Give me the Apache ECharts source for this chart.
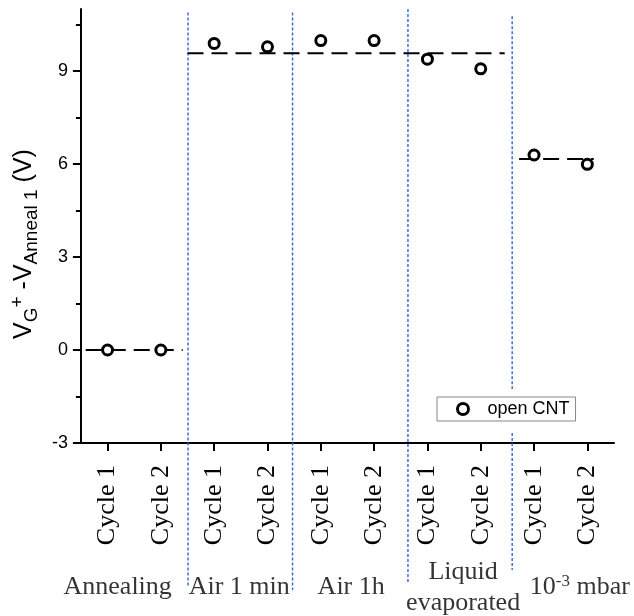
<!DOCTYPE html>
<html><head><meta charset="utf-8">
<script src="https://cdn.jsdelivr.net/npm/echarts@6/dist/echarts.min.js"></script>
<style>html,body{margin:0;padding:0;background:#fff}#c{width:634px;height:616px}</style>
</head><body><div id="c"></div>
<script>
// ---- data ----
const cycleLabels = ['Cycle 1','Cycle 2','Cycle 1','Cycle 2','Cycle 1','Cycle 2','Cycle 1','Cycle 2','Cycle 1','Cycle 2'];
const openCNT = [0.0, 0.0, 9.89, 9.78, 9.98, 9.98, 9.38, 9.07, 6.29, 5.99];
const yMajorTicks = [-3, 0, 3, 6, 9];
const yMinorTicks = [-1.5, 1.5, 4.5, 7.5, 10.5];
// dashed average levels (x in category units, 1 = first category)
const fitStart = [0.59, 2.50, 8.72];
const fitEnd   = [2.41, 8.45, 10.12];
const fitLevel = [0, 9.57, 6.16];
// blue dotted separators
const sepX      = [2.51, 4.47, 6.635, 8.59];
const sepTop    = [10.89, 10.89, 11.0, 10.77];
const sepBottom = [-7.65, -7.74, -7.52, -7.1];
const sepGapTop = -1.26, sepGapBottom = -2.68; // gap around the legend on the last separator
// group names under the axis
const groupNames = ['Annealing', 'Air 1 min', 'Air 1h', 'Liquid\nevaporated', '10{sup|-3} mbar'];
const groupX = [1.19, 3.47, 5.57, 7.67, 9.86];
const groupY = -7.66;

const chart = echarts.init(document.getElementById('c'), null, {renderer: 'canvas'});
const sans = 'Liberation Sans, Arial, sans-serif';
const serif = 'Liberation Serif, Times New Roman, serif';

const series = [];
series.push({
  name: 'open CNT', type: 'scatter', xAxisIndex: 0, yAxisIndex: 0,
  data: openCNT, symbol: 'circle', symbolSize: 10, z: 10,
  itemStyle: {color: '#fff', borderColor: '#000', borderWidth: 3, opacity: 1}
});
fitLevel.forEach((lv, i) => {
  series.push({
    name: 'fit' + i, type: 'line', xAxisIndex: 1, yAxisIndex: 0, symbol: 'none', z: 5,
    data: [[fitStart[i], lv], [fitEnd[i], lv]],
    lineStyle: {color: '#000', width: 2, type: [16, 8]}
  });
});
sepX.forEach((x, i) => {
  const d = (i === 3)
    ? [[x, sepTop[i]], [x, sepGapTop], [x, null], [x, sepGapBottom], [x, sepBottom[i]]]
    : [[x, sepTop[i]], [x, sepBottom[i]]];
  series.push({
    name: 'sep' + i, type: 'line', xAxisIndex: 1, yAxisIndex: 0, symbol: 'none', clip: false, z: 3,
    data: d, connectNulls: false,
    lineStyle: {color: '#2f66d8', width: 1.4, type: [3, 2]}
  });
});
series.push({
  name: 'groups', type: 'scatter', xAxisIndex: 1, yAxisIndex: 0, symbolSize: 0, clip: false,
  data: groupX.map((x, i) => ({value: [x, groupY], name: groupNames[i]})),
  label: {
    show: true, position: 'inside', formatter: p => p.name,
    fontFamily: serif, fontSize: 26, color: '#000', lineHeight: 31,
    rich: {sup: {fontFamily: serif, fontSize: 17, padding: [0, 0, 12, 0], color: '#000'}}
  },
  silent: true
});

chart.setOption({
  animation: false,
  backgroundColor: '#fff',
  grid: {left: 76, right: 20, top: 9, bottom: 173, containLabel: false},
  legend: {
    data: ['open CNT'], left: 437, top: 397,
    orient: 'horizontal', padding: [3, 6, 3, 19],
    backgroundColor: '#fff', borderColor: '#888', borderWidth: 1, borderRadius: 0,
    itemWidth: 11, itemHeight: 11, icon: 'circle',
    itemStyle: {color: '#fff', borderColor: '#000', borderWidth: 3, opacity: 1},
    textStyle: {fontFamily: sans, fontSize: 18, color: '#000', padding: [0, 0, 0, 14]}
  },
  xAxis: [{
    type: 'category', data: cycleLabels, boundaryGap: true,
    axisLine: {show: true, onZero: false, lineStyle: {color: '#000', width: 2}},
    axisTick: {show: true, alignWithLabel: true, length: 8, lineStyle: {color: '#000', width: 2}},
    axisLabel: {rotate: 90, margin: 22, fontFamily: serif, fontSize: 26, color: '#000', interval: 0, padding: [8, 0, 0, 0]},
    splitLine: {show: false}
  }, {
    type: 'value', min: 0.5, max: 10.5, show: false
  }],
  yAxis: [{
    type: 'value', min: -3, max: 11,
    axisLine: {show: true, onZero: false, lineStyle: {color: '#000', width: 2}},
    axisTick: {show: true, length: 8, customValues: yMajorTicks, lineStyle: {color: '#000', width: 2}},
    axisLabel: {show: true, customValues: yMajorTicks, margin: 13, fontFamily: sans, fontSize: 18, color: '#000'},
    splitLine: {show: false},
    name: '{m|V}{sub|G}{sup|+}{m| -V}{sub|Anneal 1}{m| (V)}',
    nameLocation: 'middle', nameGap: 30, nameRotate: 90,
    nameTextStyle: {
      padding: [0, 36, 0, 0],
      rich: {
        m: {fontFamily: sans, fontSize: 25, color: '#000'},
        sub: {fontFamily: sans, fontSize: 19, color: '#000', padding: [14, 0, 0, 0]},
        sup: {fontFamily: sans, fontSize: 19, color: '#000', padding: [0, 0, 14, 0]}
      }
    }
  }, {
    type: 'value', min: -3, max: 11, position: 'left',
    axisLine: {show: false},
    axisTick: {show: true, length: 5, customValues: yMinorTicks, lineStyle: {color: '#000', width: 2}},
    axisLabel: {show: false},
    splitLine: {show: false}
  }],
  series: series
});
</script>
</body></html>
